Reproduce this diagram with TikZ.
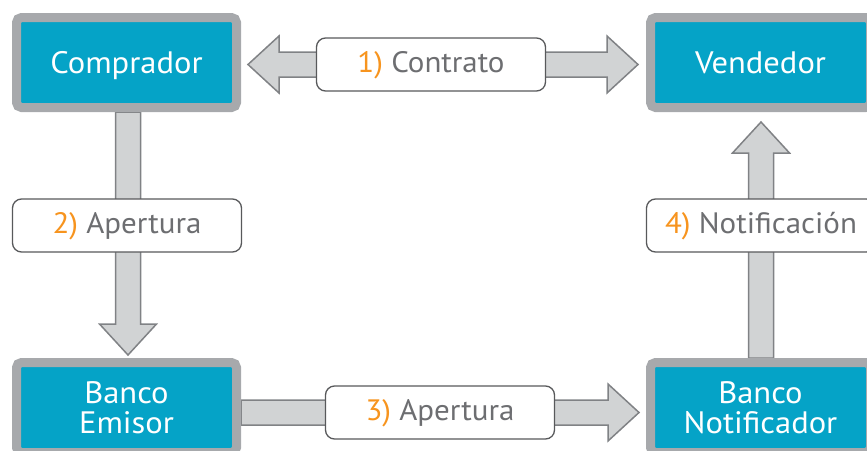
\documentclass[tikz,border=0pt]{standalone}
\usepackage{fontspec}
\setmainfont{PT Sans}[FakeStretch=1.05]
\usetikzlibrary{calc,backgrounds}

\definecolor{boxfill}{HTML}{05A3C7}
\definecolor{boxborder}{HTML}{A7A9AC}
\definecolor{arrowfill}{HTML}{D1D3D4}
\definecolor{arrowline}{HTML}{808285}
\definecolor{labelline}{HTML}{58595B}
\definecolor{labeltext}{HTML}{6D6E71}
\definecolor{numorange}{HTML}{F7941E}

\tikzset{
  party/.style={draw=boxborder, fill=boxfill, line width=9pt, rounded corners=5pt,
    minimum width=220pt, minimum height=90pt, inner sep=0pt, text=white, align=center,
    font=\fontsize{31}{30}\selectfont},
  oneline/.style={text height=21pt, text depth=0pt},
  steplabel/.style={draw=labelline, fill=white, line width=1.3pt, rounded corners=9pt,
    minimum width=229pt, minimum height=53pt, inner sep=0pt, text=labeltext,
    text height=15pt, text depth=0pt, font=\fontsize{29.5}{30}\selectfont},
  fatarrow/.style={draw=arrowline, fill=arrowfill, line width=1.5pt, line join=miter,
    to path={
      -- ($(\tikztostart)!12.5pt!90:(\tikztotarget)$)
      -- ($(\tikztotarget)!31pt!(\tikztostart)!12.5pt!-90:(\tikztostart)$)
      -- ($(\tikztotarget)!31pt!(\tikztostart)!28.5pt!-90:(\tikztostart)$)
      -- (\tikztotarget)
      -- ($(\tikztotarget)!31pt!(\tikztostart)!28.5pt!90:(\tikztostart)$)
      -- ($(\tikztotarget)!31pt!(\tikztostart)!12.5pt!90:(\tikztostart)$)
      -- ($(\tikztostart)!12.5pt!-90:(\tikztotarget)$)
      -- cycle}}
}

\newcommand{\num}[1]{{\color{numorange}#1}}

\begin{document}
\begin{tikzpicture}[x=1pt, y=-1pt]
  \useasboundingbox (0,0) rectangle (867,450);

  % parties
  \node[party, oneline] (comprador) at (126.5,62.5) {Comprador};
  \node[party, oneline] (vendedor) at (760.5,62.5) {Vendedor};
  \node[party] (emisor) at (126.5,407.5) {Banco\\Emisor};
  \node[party] (notificador) at (760.5,407.5) {Banco\\Notificador};

  % steps
  \node[steplabel] (contrato) at (431,64.5) {\num{1)} Contrato};
  \node[steplabel] (apertura) at (127,225.5) {\num{2)} Apertura};
  \node[steplabel] (aperturab) at (440,412.5) {\num{3)} Apertura};
  \node[steplabel] (notificacion) at (761,225.5) {\num{4)} Notificación};

  % arrow tips
  \coordinate (tipcomp) at ($(comprador.east |- contrato)+(7,0)$);
  \coordinate (tipvend) at ($(vendedor.west |- contrato)+(-8,0)$);
  \coordinate (tipemis) at ($(emisor.north)+(1.5,-3)$);
  \coordinate (tipnoti) at ($(notificador.west |- aperturab)+(-7,0)$);
  \coordinate (tipvendb) at ($(vendedor.south)+(0.5,10)$);
  \coordinate (baseemis) at (emisor.east |- aperturab);
  \coordinate (basecomp) at ($(comprador.south)+(1.5,0)$);
  \coordinate (basenoti) at ($(notificador.north)+(0.5,0)$);

  \begin{scope}[on background layer]
    \draw[fatarrow] (contrato.center) to (tipcomp);
    \draw[fatarrow] (contrato.center) to (tipvend);
    \draw[fatarrow] (basecomp) to (tipemis);
    \draw[fatarrow] (baseemis) to (tipnoti);
    \draw[fatarrow] (basenoti) to (tipvendb);
  \end{scope}
\end{tikzpicture}
\end{document}
